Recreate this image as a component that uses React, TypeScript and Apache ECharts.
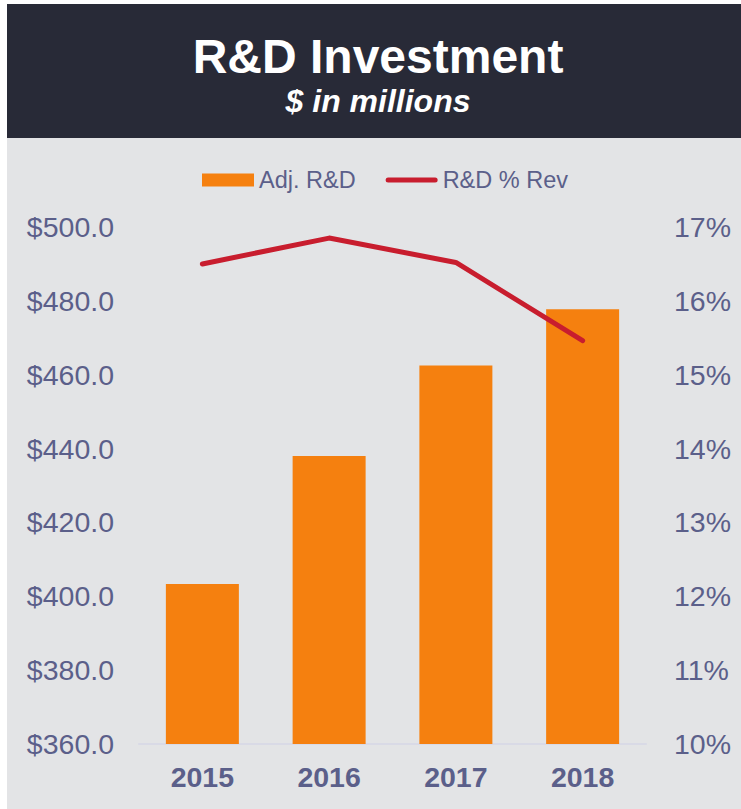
import React, { useEffect, useRef } from "react";
import * as echarts from "echarts";

const years = ["2015", "2016", "2017", "2018"];
const adjRD = [403.3, 438.0, 462.5, 477.7];
const rdPctRev = [16.5, 16.85, 16.52, 15.46];
const leftMin = 360;
const leftMax = 500;
const leftStep = 20;
const rightMin = 10;
const rightMax = 17;
const rightStep = 1;

const FONT = "'Liberation Sans', Arial, sans-serif";
const TEXT = "#5b5f8a";
const ORANGE = "#f5800f";
const RED = "#c81d2e";

export default function App() {
  const ref = useRef<HTMLDivElement>(null);
  useEffect(() => {
    if (!ref.current) return;
    const chart = echarts.init(ref.current, null, { renderer: "svg" });
    chart.setOption({
      animation: false,
      textStyle: { fontFamily: FONT },
      graphic: [
        { type: "rect", z: -10, shape: { x: 7, y: 4, width: 734, height: 134 }, style: { fill: "#282a37" } },
        { type: "rect", z: -10, shape: { x: 7, y: 138, width: 734, height: 671 }, style: { fill: "#e3e4e6" } },
        {
          type: "text",
          x: 378,
          y: 56,
          style: {
            text: "R&D Investment",
            fill: "#ffffff",
            font: `bold 48px ${FONT}`,
            textAlign: "center",
            textVerticalAlign: "middle",
          },
        },
        {
          type: "text",
          x: 378,
          y: 101,
          style: {
            text: "$ in millions",
            fill: "#ffffff",
            font: `italic bold 32px ${FONT}`,
            textAlign: "center",
            textVerticalAlign: "middle",
          },
        },
      ],
      legend: {
        left: 197,
        top: 163,
        itemWidth: 52,
        itemHeight: 13,
        itemGap: 30,
        textStyle: { color: TEXT, fontSize: 23.5, fontFamily: FONT },
        data: [
          { name: "Adj. R&D", icon: "rect" },
          {
            name: "R&D % Rev",
            icon: "path://M2.5,0 H49.5 A2.5,2.5 0 0 1 49.5,5 H2.5 A2.5,2.5 0 0 1 2.5,0 Z",
            itemStyle: { color: RED },
          },
        ],
      },
      grid: { left: 139, right: 95, top: 227, bottom: 65 },
      xAxis: {
        type: "category",
        data: years,
        axisLine: { lineStyle: { color: "#d9dae6", width: 2 } },
        axisTick: { show: false },
        axisLabel: { color: TEXT, fontSize: 28.5, fontWeight: "bold", margin: 18, fontFamily: FONT },
      },
      yAxis: [
        {
          type: "value",
          min: leftMin,
          max: leftMax,
          interval: leftStep,
          splitLine: { show: false },
          axisLine: { show: false },
          axisTick: { show: false },
          axisLabel: {
            color: TEXT,
            fontSize: 28.5,
            margin: 25,
            fontFamily: FONT,
            formatter: (v: number) => "$" + v.toFixed(1),
          },
        },
        {
          type: "value",
          min: rightMin,
          max: rightMax,
          interval: rightStep,
          splitLine: { show: false },
          axisLine: { show: false },
          axisTick: { show: false },
          axisLabel: {
            color: TEXT,
            fontSize: 28.5,
            margin: 28,
            fontFamily: FONT,
            formatter: (v: number) => v + "%",
          },
        },
      ],
      series: [
        {
          name: "Adj. R&D",
          type: "bar",
          data: adjRD,
          barWidth: 73,
          itemStyle: { color: ORANGE },
        },
        {
          name: "R&D % Rev",
          type: "line",
          yAxisIndex: 1,
          data: rdPctRev,
          symbol: "none",
          lineStyle: { color: RED, width: 5, cap: "round", join: "round" },
          itemStyle: { color: RED },
        },
      ],
    });
    return () => chart.dispose();
  }, []);
  return (
    <div
      ref={ref}
      style={{ position: "fixed", left: 0, top: 0, width: 741, height: 809, background: "#ffffff" }}
    />
  );
}
